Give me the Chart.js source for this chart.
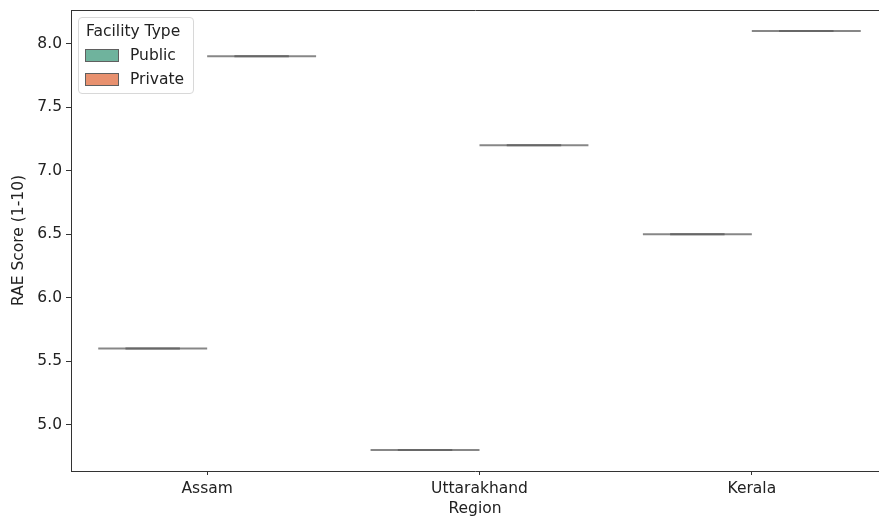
<!DOCTYPE html>
<html><head><meta charset="utf-8">
<script src="https://cdn.jsdelivr.net/npm/chart.js@4/dist/chart.umd.min.js"></script>
<style>
html,body{margin:0;padding:0;background:#fff;overflow:hidden;width:879px;height:518px}
#wrap{position:relative;width:879px;height:518px}
#legend{position:absolute;left:78px;top:17px;width:116px;height:77px;border:1px solid #d8d8d8;border-radius:4px;background:rgba(255,255,255,0.8);font-family:"DejaVu Sans",sans-serif;font-size:15.5px;color:#222;box-sizing:border-box}
#legend .t{position:absolute;left:7px;top:4px;white-space:nowrap}
#legend .r{position:absolute;left:6px;display:flex;align-items:center;white-space:nowrap}
#legend .p{width:34px;height:13px;border:1.5px solid #5f5f5f;box-sizing:border-box;margin-right:11px}
</style></head>
<body><div id="wrap"><canvas id="c" width="879" height="518"></canvas>
<div id="legend"><div class="t">Facility Type</div>
<div class="r" style="top:28px"><div class="p" style="background:#6fb39d"></div><span>Public</span></div>
<div class="r" style="top:52px"><div class="p" style="background:#e8916f"></div><span>Private</span></div></div></div>
<script>
const regions = ["Assam", "Uttarakhand", "Kerala"];
const publicScores = [5.6, 4.8, 6.5];
const privateScores = [7.9, 7.2, 8.1];
const yTicks = [5.0, 5.5, 6.0, 6.5, 7.0, 7.5, 8.0];

const datasets = [];
function addBox(vals, offset) {
  vals.forEach((v, i) => {
    datasets.push({type:'line', data:[{x:i+offset-0.2,y:v},{x:i+offset+0.2,y:v}], borderColor:'#878787', borderWidth:2, pointRadius:0, order:2});
    datasets.push({type:'line', data:[{x:i+offset-0.1,y:v},{x:i+offset+0.1,y:v}], borderColor:'#676767', borderWidth:2, pointRadius:0, order:1});
  });
}
addBox(publicScores, -0.2);
addBox(privateScores, 0.2);

const frame = {id:'frame', afterDraw(ch){const a=ch.chartArea,c=ch.ctx;c.save();c.strokeStyle='#333';c.lineWidth=1;c.beginPath();const y=Math.round(a.top)+0.5;c.moveTo(Math.round(a.left),y);c.lineTo(a.right+2,y);c.stroke();c.restore();}};
const font = {family:'"DejaVu Sans", sans-serif', size:15.5};
new Chart(document.getElementById('c'), {
  type:'line',
  data:{datasets},
  plugins:[frame],
  options:{
    responsive:false, animation:false, events:[],
    layout:{padding:{top:10,right:0,left:0,bottom:0}},
    plugins:{legend:{display:false}, tooltip:{enabled:false}},
    scales:{
      x:{type:'linear', min:-0.5, max:2.467,
        afterBuildTicks(s){s.ticks = regions.map((r,i)=>({value:i}));},
        afterFit(s){s.height=47;s.paddingLeft=0;s.paddingRight=0;},
        ticks:{callback:(v)=>regions[v], font, color:'#222', padding:5, maxRotation:0, autoSkip:false},
        grid:{drawOnChartArea:false, tickLength:4, color:'#333'},
        border:{color:'#333'},
        title:{display:true, text:'Region', font, color:'#222', padding:{top:0,bottom:0}}
      },
      y:{type:'linear', min:4.635, max:8.265,
        afterBuildTicks(s){s.ticks = yTicks.map(v=>({value:v}));},
        afterFit(s){s.width=71;s.paddingTop=0;s.paddingBottom=0;},
        ticks:{callback:(v)=>v.toFixed(1), font, color:'#222', padding:4},
        grid:{drawOnChartArea:false, tickLength:5, color:'#333'},
        border:{color:'#333'},
        title:{display:true, text:'RAE Score (1-10)', font, color:'#222', padding:{top:10,bottom:0}}
      }
    }
  }
});
</script></body></html>
